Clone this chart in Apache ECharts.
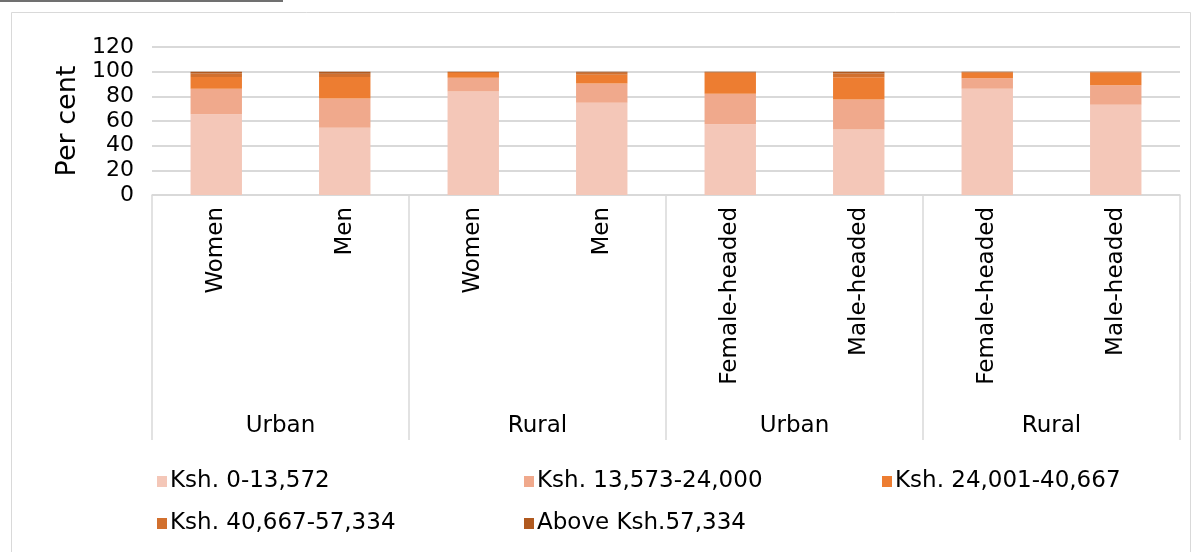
<!DOCTYPE html>
<html>
<head>
<meta charset="UTF-8">
<title></title>
<style>
  html, body { margin: 0; padding: 0; background: #fff; }
</style>
</head>
<body>
<div id="chart" style="width:1202px;height:552px;"></div>
<script src="https://cdn.jsdelivr.net/npm/echarts@6/dist/echarts.min.js"></script>
<script type="text/javascript">
// categories
var subLabels = ['Women', 'Men', 'Women', 'Men', 'Female-headed', 'Male-headed', 'Female-headed', 'Male-headed'];
var groupLabels = ['Urban', 'Rural', 'Urban', 'Rural'];
var yTicks = [0, 20, 40, 60, 80, 100, 120];

// series values (per cent)
var band1 = [65.5, 54.5, 84.0, 74.8, 57.4, 53.1, 86.2, 73.2]; // Ksh. 0-13,572
var band2 = [20.7, 23.8, 11.1, 15.7, 24.6, 24.4, 8.4, 15.7];  // Ksh. 13,573-24,000
var band3 = [9.4, 17.3, 3.9, 7.1, 16.9, 17.9, 4.6, 10.5];     // Ksh. 24,001-40,667
var band4 = [3.0, 2.8, 0.7, 1.5, 0.7, 3.2, 0.5, 0.4];          // Ksh. 40,667-57,334
var band5 = [1.4, 1.6, 0.3, 0.9, 0.4, 1.4, 0.3, 0.2];          // Above Ksh.57,334

var seriesNames = ['Ksh. 0-13,572', 'Ksh. 13,573-24,000', 'Ksh. 24,001-40,667', 'Ksh. 40,667-57,334', 'Above Ksh.57,334'];
var seriesData = [band1, band2, band3, band4, band5];
var colors = ['#F4C7B8', '#F0A98C', '#ED7D31', '#D2702E', '#B0591F'];

var font = 'DejaVu Sans';
var gridCol = '#D9D9D9';

var series = [];
for (var i = 0; i < seriesNames.length; i++) {
	series.push({
		name: seriesNames[i],
		type: 'bar',
		stack: 'total',
		barWidth: '40%',
		xAxisIndex: 0,
		data: seriesData[i],
		itemStyle: { color: colors[i] }
	});
}

// legend positions (one legend per item so the columns line up)
var legendPos = [[152, 465], [519, 465], [877, 465], [152, 507], [519, 507]];
var legends = [];
for (var j = 0; j < seriesNames.length; j++) {
	legends.push({
		data: [seriesNames[j]],
		left: legendPos[j][0],
		top: legendPos[j][1],
		icon: 'rect',
		itemWidth: 10,
		itemHeight: 11,
		itemGap: 4,
		textStyle: { fontFamily: font, fontSize: 23, color: '#000', padding: [2, 0, 0, -2] }
	});
}

var my_echarts = echarts.init(document.getElementById('chart'));
var option = {
	backgroundColor: '#fff',
	animation: false,
	color: colors,
	graphic: [
		{ type: 'line', shape: { x1: 0, y1: 1, x2: 283, y2: 1 }, style: { stroke: '#404040', lineWidth: 1.5 } },
		{ type: 'rect', shape: { x: 11.5, y: 12.5, width: 1179, height: 560 }, style: { fill: null, stroke: '#D9D9D9', lineWidth: 1 } }
	],
	legend: legends,
	grid: {
		left: 152,
		right: 22,
		top: 47,
		bottom: 357,
		containLabel: false
	},
	xAxis: [{
		type: 'category',
		data: subLabels,
		axisTick: { show: false },
		axisLine: { lineStyle: { color: gridCol, width: 1.5 } },
		axisLabel: {
			rotate: 90,
			interval: 0,
			margin: 12,
			fontFamily: font,
			fontSize: 23,
			color: '#000'
		}
	}, {
		type: 'category',
		data: groupLabels,
		position: 'bottom',
		axisLine: { show: false },
		axisTick: {
			show: true,
			interval: 0,
			length: 245,
			lineStyle: { color: gridCol, width: 1.5 }
		},
		axisLabel: {
			interval: 0,
			margin: 220,
			fontFamily: font,
			fontSize: 23,
			color: '#000'
		}
	}],
	yAxis: [{
		type: 'value',
		min: yTicks[0],
		max: yTicks[yTicks.length - 1],
		interval: 20,
		name: 'Per cent',
		nameLocation: 'middle',
		nameGap: 71,
		nameTextStyle: { fontFamily: font, fontSize: 27, color: '#000' },
		axisLine: { show: false },
		axisTick: { show: false },
		axisLabel: {
			margin: 18,
			fontFamily: font,
			fontSize: 22,
			color: '#000'
		},
		splitLine: { lineStyle: { color: gridCol, width: 2 } }
	}],
	series: series
};
my_echarts.setOption(option);
</script>
</body>
</html>
